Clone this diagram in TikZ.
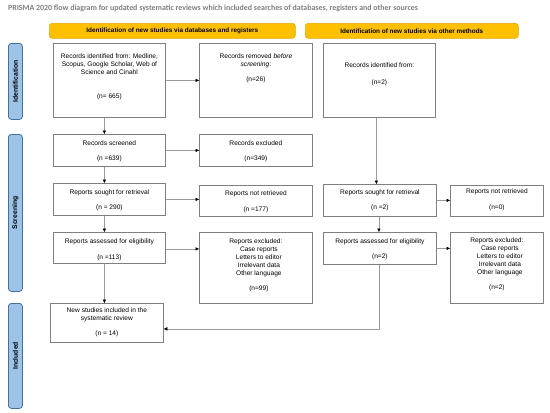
\documentclass[tikz,border=0pt]{standalone}
\usepackage{fontspec}
\setmainfont{Liberation Sans}
\newfontfamily\titlefont{Carlito}
\usetikzlibrary{arrows.meta}
\definecolor{boxgray}{HTML}{7F7F7F}
\definecolor{linegray}{HTML}{9A9A9A}
\definecolor{hdryellow}{HTML}{FFC000}
\definecolor{hdrborder}{HTML}{E2A900}
\definecolor{sidefill}{HTML}{9DC3E6}
\definecolor{sideborder}{HTML}{41719C}
\definecolor{titlegray}{HTML}{7F7F7F}
\newcommand\pbx[4]{\parbox[c][#1][t]{#2}{\vspace*{#3}\centering #4\par}}
\tikzset{
  x=1pt, y=1pt,
  bx/.style={draw=boxgray, line width=0.8pt, inner sep=0pt, anchor=north west,
    font=\fontsize{6.6}{8}\selectfont},
  hdr/.style={draw=hdrborder, fill=hdryellow, rounded corners=3pt, line width=0.6pt,
    inner sep=0pt, anchor=north west, font=\bfseries\fontsize{6.4}{8}\selectfont},
  side/.style={draw=sideborder, fill=sidefill, rounded corners=3pt, line width=0.8pt,
    inner sep=0pt, anchor=north west},
  sidetxt/.style={rotate=90, inner sep=0pt, font=\bfseries\fontsize{6.8}{8}\selectfont},
  arr/.style={draw=linegray, line width=0.6pt, -{Triangle[length=3.5pt,width=3.2pt,color=black]}}
}
\begin{document}
\begin{tikzpicture}
\useasboundingbox (0,0) rectangle (550,-413);
\fill[white] (0,0) rectangle (550,-413);

\node[anchor=west, inner sep=0pt, text=titlegray, font=\titlefont\bfseries\fontsize{7.9}{9}\selectfont] (title) at (8,-8) {PRISMA 2020 flow diagram for updated systematic reviews which included searches of databases, registers and other sources};

% headers
\node[hdr, minimum width=246pt, minimum height=15pt] (h1) at (49,-23) {Identification of new studies via databases and registers};
\node[hdr, minimum width=213pt, minimum height=15pt] (h2) at (305,-23) {Identification of new studies via other methods};

% sidebars
\node[side, minimum width=14pt, minimum height=76pt] (s1) at (8,-43) {};
\node[sidetxt] (s1t) at (s1.center) {Identification};
\node[side, minimum width=14pt, minimum height=157pt] (s2) at (8,-134) {};
\node[sidetxt] (s2t) at (s2.center) {Screening};
\node[side, minimum width=14pt, minimum height=105pt] (s3) at (8,-303) {};
\node[sidetxt] (s3t) at (s3.center) {Included};

% left column
\node[bx] (A) at (53,-43) {\pbx{74pt}{112pt}{10.3pt}{Records identified from: Medline,\\ Scopus, Google Scholar, Web of\\ Science and Cinahl\\[16pt] (n= 665)}};
\node[bx] (D) at (53,-134) {\pbx{32pt}{112pt}{6.3pt}{Records screened\\[7pt] (n =639)}};
\node[bx] (F) at (53,-183) {\pbx{32pt}{112pt}{6.3pt}{Reports sought for retrieval\\[7pt] (n = 290)}};
\node[bx] (H) at (53,-232) {\pbx{31pt}{112pt}{6.3pt}{Reports assessed for eligibility\hspace*{6pt}\\[8pt] (n =113)}};
\node[bx] (N) at (50,-303) {\pbx{39pt}{113pt}{4.3pt}{New studies included in the\\ systematic review\\[7pt] (n = 14)}};

% middle column
\node[bx] (B) at (199,-43) {\pbx{74pt}{113pt}{10.3pt}{Records removed \textit{before}\\ \textit{screening}:\\[7pt] (n=26)}};
\node[bx] (E) at (199,-134) {\pbx{32pt}{113pt}{6.3pt}{Records excluded\\[7pt] (n=349)}};
\node[bx] (G) at (199,-185) {\pbx{31pt}{113pt}{5.3pt}{Reports not retrieved\\[8pt] (n =177)}};
\node[bx] (I) at (199,-232) {\pbx{71pt}{113pt}{6.3pt}{Reports excluded:\\ \hspace*{6pt}Case reports\\ \hspace*{6pt}Letters to editor\\ \hspace*{6pt}Irrelevant data\\ \hspace*{6pt}Other language\\[7pt] \hspace*{6pt}(n=99)}};

% right columns
\node[bx] (C) at (323,-43) {\pbx{74pt}{112pt}{19.3pt}{Records identified from:\\[9pt] (n=2)}};
\node[bx] (J) at (323,-184) {\pbx{32pt}{113pt}{5.3pt}{Reports sought for retrieval\\[7pt] (n =2)}};
\node[bx] (L) at (323,-232) {\pbx{32pt}{113pt}{6.3pt}{Reports assessed for eligibility\hspace*{6pt}\\[7pt] (n=2)}};
\node[bx] (K) at (450,-185) {\pbx{31pt}{93pt}{3.3pt}{Reports not retrieved\\[8pt] (n=0)}};
\node[bx] (M) at (450,-232) {\pbx{71pt}{93pt}{5.3pt}{Reports excluded:\\ \hspace*{6pt}Case reports\\ \hspace*{6pt}Letters to editor\\ \hspace*{6pt}Irrelevant data\\ \hspace*{6pt}Other language\\[7pt] (n=2)}};

% horizontal arrows
\draw[arr] (A.east) -- (A.east -| B.west);
\draw[arr] (D.east) -- (D.east -| E.west);
\draw[arr] (F.east) -- (F.east -| G.west);
\draw[arr] ([yshift=-1pt]H.east) -- ([yshift=-1pt]H.east -| I.west);
\draw[arr] (J.east) -- (J.east -| K.west);
\draw[arr] (L.east) -- (L.east -| M.west);

% vertical arrows
\draw[arr] ([xshift=-5pt]A.south) -- ([xshift=-5pt]A.south |- D.north);
\draw[arr] ([xshift=-5pt]D.south) -- ([xshift=-5pt]D.south |- F.north);
\draw[arr] ([xshift=-5pt]F.south) -- ([xshift=-5pt]F.south |- H.north);
\draw[arr] ([xshift=-5pt]H.south) -- ([xshift=-5pt]H.south |- N.north);
\draw[arr] ([xshift=-3pt]C.south) -- ([xshift=-3pt]C.south |- J.north);
\draw[arr] ([xshift=-1pt]J.south) -- ([xshift=-1pt]J.south |- L.north);
\draw[arr] ([xshift=-1pt]L.south) |- ([yshift=-6pt]N.east);
\end{tikzpicture}
\end{document}
